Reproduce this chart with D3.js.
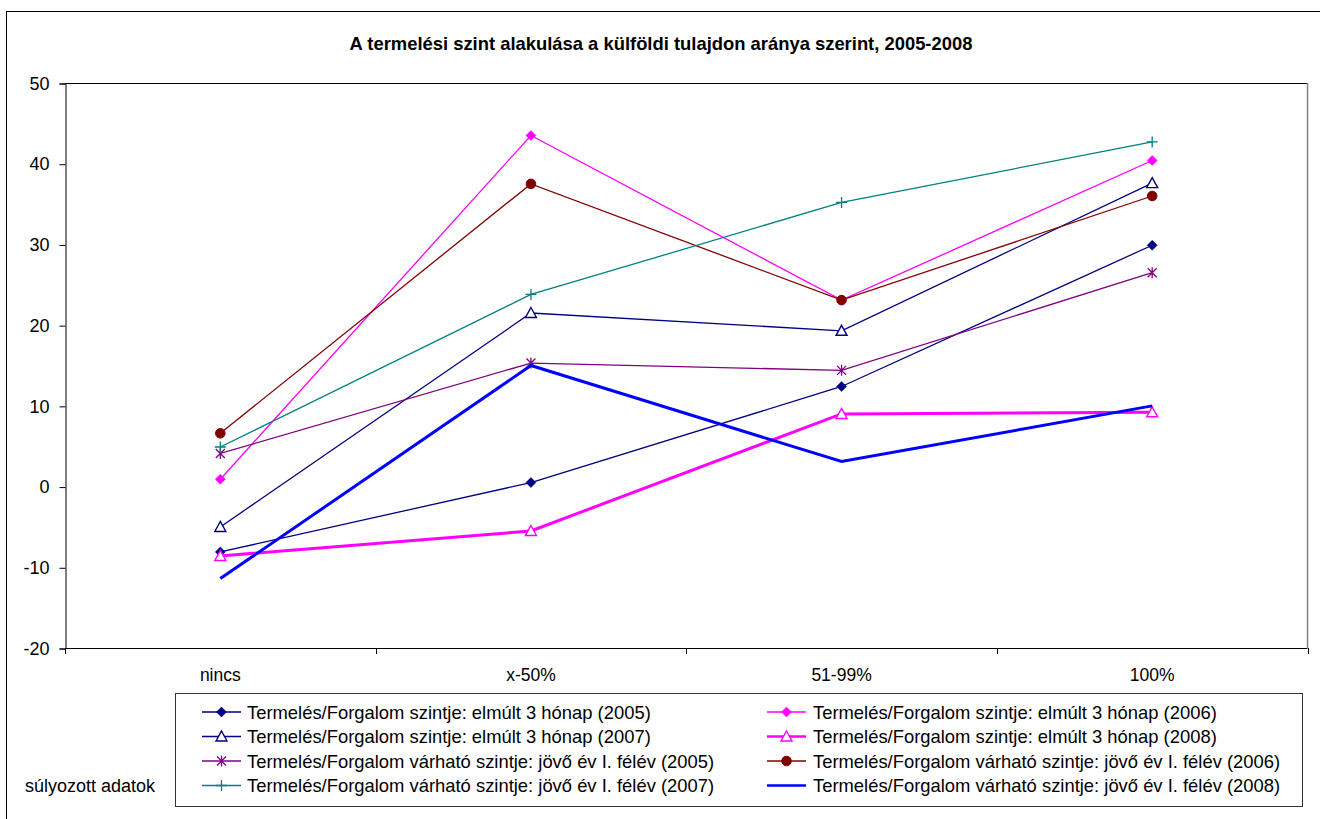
<!DOCTYPE html>
<html>
<head>
<meta charset="utf-8">
<script src="https://cdn.jsdelivr.net/npm/d3@7"></script>
<style>
  html, body { margin: 0; padding: 0; background: #fff; }
  svg { display: block; font-family: Arial, "Liberation Sans", sans-serif; }
</style>
</head>
<body>
<svg id="chart" width="1320" height="819"></svg>
<script>
const categories = ["nincs", "x-50%", "51-99%", "100%"];
const yTicks = [-20, -10, 0, 10, 20, 30, 40, 50];

const seriesNames = [
  "Termelés/Forgalom szintje: elmúlt 3 hónap (2005)",
  "Termelés/Forgalom szintje: elmúlt 3 hónap (2006)",
  "Termelés/Forgalom szintje: elmúlt 3 hónap (2007)",
  "Termelés/Forgalom szintje: elmúlt 3 hónap (2008)",
  "Termelés/Forgalom várható szintje: jövő év I. félév (2005)",
  "Termelés/Forgalom várható szintje: jövő év I. félév (2006)",
  "Termelés/Forgalom várható szintje: jövő év I. félév (2007)",
  "Termelés/Forgalom várható szintje: jövő év I. félév (2008)"
];
const elmult2005 = [-8.1, 0.5, 12.4, 29.9];
const elmult2006 = [0.9, 43.5, 23.1, 40.4];
const elmult2007 = [-5.0, 21.5, 19.3, 37.6];
const elmult2008 = [-8.6, -5.5, 9.0, 9.2];
const varhato2005 = [4.1, 15.3, 14.4, 26.5];
const varhato2006 = [6.6, 37.5, 23.1, 36.0];
const varhato2007 = [4.9, 23.8, 35.2, 42.7];
const varhato2008 = [-11.4, 15.0, 3.1, 10.0];

const seriesValues = [elmult2005, elmult2006, elmult2007, elmult2008,
                      varhato2005, varhato2006, varhato2007, varhato2008];
const seriesColors = ["#000080", "#FF00FF", "#000080", "#FF00FF",
                      "#800080", "#800000", "#008080", "#0000FF"];
const seriesMarkers = ["diamond", "diamond", "triangle", "triangle",
                       "asterisk", "circle", "plus", "none"];
const seriesWidths = [1.3, 1.3, 1.3, 3, 1.3, 1.3, 1.3, 3];

const svg = d3.select("#chart");

// outer chart frame
svg.append("rect").attr("x", 6.5).attr("y", 11.5).attr("width", 1330).attr("height", 830)
  .attr("fill", "#fff").attr("stroke", "#000").attr("stroke-width", 1);

const plot = { left: 65, right: 1307.5, top: 83, bottom: 648 };

const x = d3.scaleBand().domain(categories).range([plot.left, plot.right]).padding(0);
const y = d3.scaleLinear().domain([-20, 50]).range([plot.bottom, plot.top]);
const cx = c => x(c) + x.bandwidth() / 2;

// plot area border (top & right)
svg.append("line").attr("x1", plot.left).attr("x2", plot.right).attr("y1", y(50) + 0.5).attr("y2", y(50) + 0.5)
  .attr("stroke", "#000").attr("stroke-width", 1);
svg.append("line").attr("x1", plot.right).attr("x2", plot.right).attr("y1", plot.top).attr("y2", plot.bottom)
  .attr("stroke", "#808080").attr("stroke-width", 1.5);

// Title
svg.append("text").attr("x", 661).attr("y", 50).attr("text-anchor", "middle")
  .attr("font-size", "18.4px").attr("font-weight", "bold").attr("fill", "#000")
  .text("A termelési szint alakulása a külföldi tulajdon aránya szerint, 2005-2008");

// Y axis
const yAxis = d3.axisLeft(y).tickValues(yTicks).tickSize(6).tickPadding(10).tickFormat(d => String(d));
const gy = svg.append("g").attr("transform", `translate(${plot.left + 0.5},0.5)`).call(yAxis);
gy.selectAll("text").attr("font-size", "18px").attr("font-family", "Arial, 'Liberation Sans', sans-serif").attr("fill", "#000");
gy.selectAll("line, path").attr("stroke", "#000");

// X axis: line, boundary ticks, centered labels
const gx = svg.append("g");
gx.append("line").attr("x1", plot.left).attr("x2", plot.right).attr("y1", plot.bottom + 0.5).attr("y2", plot.bottom + 0.5)
  .attr("stroke", "#000");
const bounds = categories.map(c => x(c)).concat([plot.right]);
gx.selectAll("line.tk").data(bounds).enter().append("line").attr("class", "tk")
  .attr("x1", d => Math.round(d) + 0.5).attr("x2", d => Math.round(d) + 0.5)
  .attr("y1", plot.bottom).attr("y2", plot.bottom + 6).attr("stroke", "#000");
gx.selectAll("text").data(categories).enter().append("text")
  .attr("x", d => cx(d)).attr("y", 681).attr("text-anchor", "middle")
  .attr("font-size", "17.5px").attr("fill", "#000").text(d => d);

// marker drawing
function drawMarker(g, type, color, px, py) {
  if (type === "diamond") {
    const s = 5;
    g.append("path").attr("d", `M${px},${py - s}L${px + s},${py}L${px},${py + s}L${px - s},${py}Z`)
      .attr("fill", color).attr("stroke", color).attr("stroke-width", 0.5);
  } else if (type === "triangle") {
    g.append("path").attr("d", `M${px},${py - 5.5}L${px + 5.5},${py + 4.5}L${px - 5.5},${py + 4.5}Z`)
      .attr("fill", "#fff").attr("stroke", color).attr("stroke-width", 1.4);
  } else if (type === "circle") {
    g.append("circle").attr("cx", px).attr("cy", py).attr("r", 4.8).attr("fill", color).attr("stroke", color);
  } else if (type === "plus") {
    const s = 5.5;
    g.append("path").attr("d", `M${px - s},${py}L${px + s},${py}M${px},${py - s}L${px},${py + s}`)
      .attr("stroke", color).attr("stroke-width", 1.3).attr("fill", "none");
  } else if (type === "asterisk") {
    const s = 4.5;
    g.append("path").attr("d", `M${px - s},${py - s}L${px + s},${py + s}M${px - s},${py + s}L${px + s},${py - s}M${px},${py - 5.5}L${px},${py + 5.5}`)
      .attr("stroke", color).attr("stroke-width", 1.3).attr("fill", "none");
  }
}

// Series
const line = d3.line().x((d, i) => cx(categories[i])).y(d => y(d));
seriesValues.forEach((vals, si) => {
  const g = svg.append("g");
  g.append("path").datum(vals).attr("d", line).attr("fill", "none")
    .attr("stroke", seriesColors[si]).attr("stroke-width", seriesWidths[si])
    .attr("stroke-linejoin", "miter").attr("stroke-linecap", "butt");
  vals.forEach((v, i) => drawMarker(g, seriesMarkers[si], seriesColors[si], cx(categories[i]), y(v)));
});

// Legend
const lg = svg.append("g");
lg.append("rect").attr("x", 175.5).attr("y", 693.5).attr("width", 1127).attr("height", 113)
  .attr("fill", "#fff").attr("stroke", "#333").attr("stroke-width", 1);
const legendOrder = [0, 1, 2, 3, 4, 5, 6, 7];
const colX = [{ l1: 202, l2: 241, tx: 247 }, { l1: 767, l2: 806, tx: 813 }];
const rowY = [712, 736.5, 761, 785.5];
legendOrder.forEach((si, k) => {
  const col = colX[k % 2];
  const ry = rowY[Math.floor(k / 2)];
  lg.append("line").attr("x1", col.l1).attr("x2", col.l2).attr("y1", ry).attr("y2", ry)
    .attr("stroke", seriesColors[si]).attr("stroke-width", seriesWidths[si] === 3 ? 2.5 : 1.3);
  drawMarker(lg, seriesMarkers[si], seriesColors[si], (col.l1 + col.l2) / 2, ry);
  lg.append("text").attr("x", col.tx).attr("y", ry + 6.5).attr("font-size", "18.4px").attr("fill", "#000")
    .text(seriesNames[si]);
});

svg.append("text").attr("x", 25).attr("y", 792).attr("font-size", "18px").attr("fill", "#000")
  .text("súlyozott adatok");
</script>
</body>
</html>
